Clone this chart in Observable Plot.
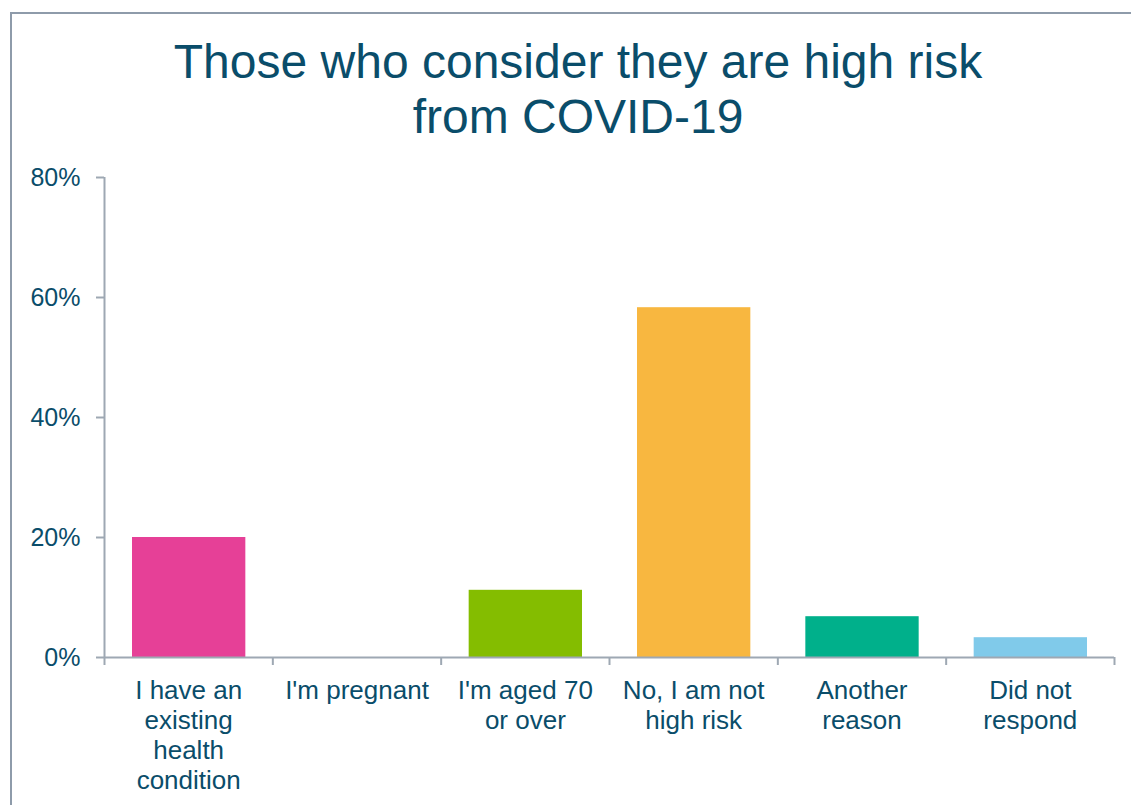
<!DOCTYPE html>
<html>
<head>
<meta charset="utf-8">
<script src="https://cdn.jsdelivr.net/npm/d3@7"></script>
<script src="https://cdn.jsdelivr.net/npm/@observablehq/plot@0.6"></script>
<style>
  html, body { margin: 0; padding: 0; background: #fff; overflow: hidden; }
  #wrap { position: relative; width: 1131px; height: 805px; overflow: hidden; }
  #frame { position: absolute; left: 10px; top: 12px; width: 1300px; height: 1000px;
           border-left: 2px solid #8E9BAA; border-top: 2px solid #8E9BAA; }
  #title { position: absolute; left: 0; top: 34px; width: 1131px; box-sizing: border-box; padding-left: 25px;
           text-align: center; font-family: "Liberation Sans", Arial, sans-serif; font-size: 48px;
           line-height: 55px; color: #0A4D6A; }
  #chart { position: absolute; left: 0; top: 0; }
</style>
</head>
<body>
<div id="wrap">
  <div id="frame"></div>
  <div id="title">Those who consider they are high risk<br>from COVID-19</div>
  <div id="chart"></div>
</div>
<script>
const categories = ["I have an\nexisting\nhealth\ncondition", "I'm pregnant", "I'm aged 70\nor over", "No, I am not\nhigh risk", "Another\nreason", "Did not\nrespond"];
const values = [0.20, 0.0, 0.112, 0.583, 0.068, 0.033];
const colors = ["#E64097", "#E64097", "#84BD00", "#F8B740", "#00B08B", "#80CAEA"];
const yTicks = [0, 0.2, 0.4, 0.6, 0.8];

const textColor = "#0A4D6A";
const axisColor = "#9EA8B3";

const data = categories.map((c, i) => ({i, c, v: values[i], color: colors[i]}));
const boundaries = d3.range(categories.length + 1);
const centers = categories.map((c, i) => i + 0.5);

const chart = Plot.plot({
  width: 1131,
  height: 805,
  marginLeft: 104,
  marginRight: 17,
  marginTop: 177,
  marginBottom: 148,
  style: {fontFamily: "'Liberation Sans', Arial, sans-serif", background: "transparent", color: textColor},
  x: {domain: [0, categories.length], axis: null},
  y: {domain: [0, 0.8], axis: null},
  marks: [
    Plot.rectY(data, {x1: "i", x2: d => d.i + 1, y: "v", fill: "color", insetLeft: 28, insetRight: 27}),
    Plot.axisY({ticks: yTicks, tickFormat: d => Math.round(d * 100) + "%", tickSize: 8, tickPadding: 16,
                fontSize: 25, stroke: axisColor, strokeWidth: 2, fill: textColor, label: null}),
    Plot.ruleX([0], {y1: 0, y2: 0.8, stroke: axisColor, strokeWidth: 2}),
    Plot.ruleY([0], {stroke: axisColor, strokeWidth: 2}),
    Plot.axisX({ticks: boundaries, tickFormat: () => "", tickSize: 8, stroke: axisColor, strokeWidth: 2, label: null}),
    Plot.axisX({ticks: centers, tickFormat: d => categories[Math.floor(d)], tickSize: 0, tickPadding: 20,
                fontSize: 26, lineHeight: 1.154, fill: textColor, label: null})
  ]
});
document.getElementById("chart").appendChild(chart);
</script>
</body>
</html>
